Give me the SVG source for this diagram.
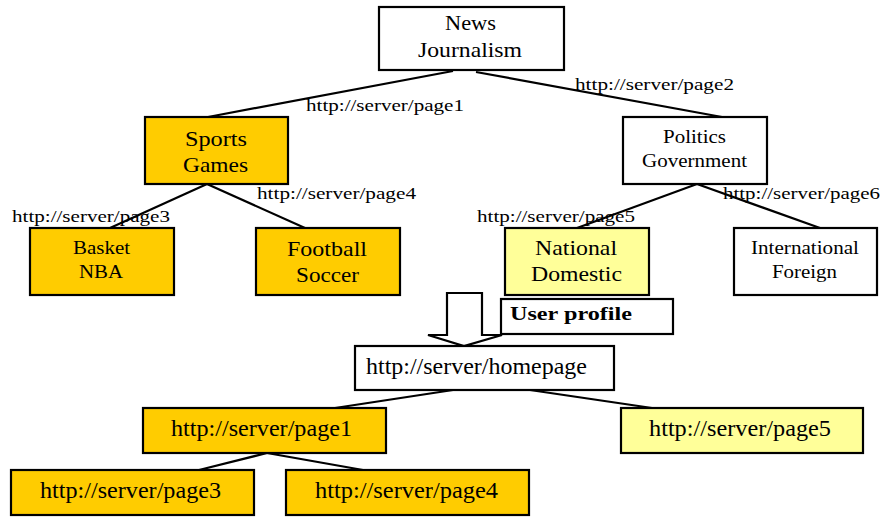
<svg xmlns="http://www.w3.org/2000/svg" width="885" height="519" viewBox="0 0 885 519">
<style>
.box{stroke:#000;stroke-width:2.2}
.w{fill:#fff}
.o{fill:#FFCC00}
.y{fill:#FFFF99}
text{font-family:"Liberation Serif","Times New Roman",serif;fill:#000}
.t20{font-size:21px}
.t17{font-size:18px}
.lbl{font-size:17.5px}
.url{font-size:23px}
.bold{font-size:19px;font-weight:bold}
.edge{stroke:#000;stroke-width:2.2;fill:none}
</style>
<rect width="885" height="519" fill="#fff"/>
<g id="connectors">
<line class="edge" x1="453" y1="71" x2="208" y2="117"/>
<line class="edge" x1="476" y1="72" x2="722" y2="117"/>
<line class="edge" x1="207" y1="184" x2="110" y2="228"/>
<line class="edge" x1="207" y1="184" x2="305" y2="228"/>
<line class="edge" x1="697" y1="184" x2="577" y2="228"/>
<line class="edge" x1="697" y1="184" x2="820" y2="228"/>
<line class="edge" x1="453" y1="390" x2="335" y2="408"/>
<line class="edge" x1="530" y1="390" x2="652" y2="408"/>
<line class="edge" x1="267" y1="453" x2="199" y2="470"/>
<line class="edge" x1="267" y1="453" x2="363" y2="470"/>
</g>
<g id="edge-labels">
<text class="lbl" x="306" y="111" textLength="158" lengthAdjust="spacingAndGlyphs">http://server/page1</text>
<text class="lbl" x="575" y="90" textLength="159" lengthAdjust="spacingAndGlyphs">http://server/page2</text>
<text class="lbl" x="12" y="222" textLength="158" lengthAdjust="spacingAndGlyphs">http://server/page3</text>
<text class="lbl" x="257" y="199" textLength="159" lengthAdjust="spacingAndGlyphs">http://server/page4</text>
<text class="lbl" x="477" y="222" textLength="158" lengthAdjust="spacingAndGlyphs">http://server/page5</text>
<text class="lbl" x="723" y="199" textLength="157" lengthAdjust="spacingAndGlyphs">http://server/page6</text>
</g>
<g id="news">
<rect class="box w" x="379" y="7" width="185" height="63"/>
<text class="t20" x="445" y="30" textLength="51" lengthAdjust="spacingAndGlyphs">News</text>
<text class="t20" x="418" y="57" textLength="104" lengthAdjust="spacingAndGlyphs">Journalism</text>
</g>
<g id="sports">
<rect class="box o" x="145" y="117" width="143" height="67"/>
<text class="t20" x="185" y="146" textLength="62" lengthAdjust="spacingAndGlyphs">Sports</text>
<text class="t20" x="183" y="172" textLength="65" lengthAdjust="spacingAndGlyphs">Games</text>
</g>
<g id="politics">
<rect class="box w" x="623" y="117" width="144" height="67"/>
<text class="t17" x="663" y="143" textLength="63" lengthAdjust="spacingAndGlyphs">Politics</text>
<text class="t17" x="642" y="167" textLength="105" lengthAdjust="spacingAndGlyphs">Government</text>
</g>
<g id="basket">
<rect class="box o" x="30" y="228" width="144" height="67"/>
<text class="t17" x="73" y="254" textLength="57" lengthAdjust="spacingAndGlyphs">Basket</text>
<text class="t17" x="79" y="278" textLength="44" lengthAdjust="spacingAndGlyphs">NBA</text>
</g>
<g id="football">
<rect class="box o" x="256" y="228" width="144" height="67"/>
<text class="t20" x="287" y="256" textLength="80" lengthAdjust="spacingAndGlyphs">Football</text>
<text class="t20" x="296" y="282" textLength="63" lengthAdjust="spacingAndGlyphs">Soccer</text>
</g>
<g id="national">
<rect class="box y" x="505" y="228" width="144" height="67"/>
<text class="t20" x="535" y="255" textLength="82" lengthAdjust="spacingAndGlyphs">National</text>
<text class="t20" x="531" y="281" textLength="91" lengthAdjust="spacingAndGlyphs">Domestic</text>
</g>
<g id="international">
<rect class="box w" x="734" y="228" width="143" height="67"/>
<text class="t17" x="751" y="254" textLength="108" lengthAdjust="spacingAndGlyphs">International</text>
<text class="t17" x="772" y="278" textLength="65" lengthAdjust="spacingAndGlyphs">Foreign</text>
</g>
<g id="arrow">
<polygon class="box w" points="447,293 482,293 482,335 502,335 464,346 428,335 447,335"/>
</g>
<g id="user-profile">
<rect class="box w" x="501" y="299" width="172" height="35"/>
<text class="bold" x="510" y="320" textLength="122" lengthAdjust="spacingAndGlyphs">User profile</text>
</g>
<g id="homepage">
<rect class="box w" x="355" y="346" width="259" height="44"/>
<text class="url" x="366" y="374" textLength="221" lengthAdjust="spacingAndGlyphs">http://server/homepage</text>
</g>
<g id="page1">
<rect class="box o" x="143" y="408" width="243" height="45"/>
<text class="url" x="171" y="436" textLength="181" lengthAdjust="spacingAndGlyphs">http://server/page1</text>
</g>
<g id="page5">
<rect class="box y" x="621" y="408" width="242" height="45"/>
<text class="url" x="649" y="436" textLength="182" lengthAdjust="spacingAndGlyphs">http://server/page5</text>
</g>
<g id="page3">
<rect class="box o" x="11" y="470" width="243" height="45"/>
<text class="url" x="40" y="498" textLength="181" lengthAdjust="spacingAndGlyphs">http://server/page3</text>
</g>
<g id="page4">
<rect class="box o" x="286" y="470" width="243" height="45"/>
<text class="url" x="315" y="498" textLength="183" lengthAdjust="spacingAndGlyphs">http://server/page4</text>
</g>
</svg>
